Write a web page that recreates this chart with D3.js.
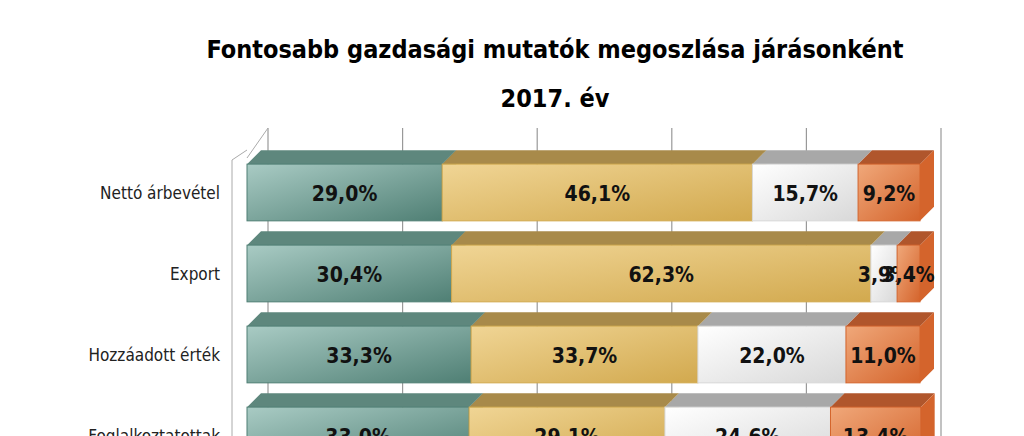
<!DOCTYPE html><html><head><meta charset="utf-8"><script src="https://d3js.org/d3.v7.min.js"></script>
<style>body{margin:0;background:#fff}</style></head><body><svg id="c" width="1024" height="436"></svg><script>
const categories=["Nettó árbevétel","Export","Hozzáadott érték","Foglalkoztatottak"];
const seriesA=[29.0,30.4,33.3,33.0];
const seriesB=[46.1,62.3,33.7,29.1];
const seriesC=[15.7,3.9,22.0,24.6];
const seriesD=[9.2,3.4,11.0,13.4];
const ticks=[0,20,40,60,80,100];
const series=[seriesA,seriesB,seriesC,seriesD];
const cols=[["#a9cbc4","#4f7f74","#5e877d"],["#f0d595","#d2a94e","#a88a4a"],["#ffffff","#d8d8d8","#a8a8a8"],["#f0a87a","#d4642c","#b0562c"]];
const svg=d3.select("#c");
const defs=svg.append("defs");
cols.forEach((c,i)=>{const g=defs.append("linearGradient").attr("id","g"+i).attr("x1",0).attr("y1",0).attr("x2",1).attr("y2",1);
g.append("stop").attr("offset","0").attr("stop-color",c[0]);g.append("stop").attr("offset","1").attr("stop-color",c[1]);});
const x=d3.scaleLinear().domain([0,100]).range([247,920]);
const y=d3.scaleBand().domain(categories).range([152,476]).paddingInner(0.3).paddingOuter(0.15);
const dx=14,dy=-14;
const fnt="'DejaVu Sans Condensed','DejaVu Sans',sans-serif";
svg.append("text").attr("x",555).attr("y",58).attr("text-anchor","middle").attr("font-family",fnt).attr("font-weight","bold").attr("font-size",25).text("Fontosabb gazdasági mutatók megoszlása járásonként");
svg.append("text").attr("x",555).attr("y",107).attr("text-anchor","middle").attr("font-family",fnt).attr("font-weight","bold").attr("font-size",25).text("2017. év");
ticks.forEach(t=>svg.append("line").attr("x1",x(t)+21).attr("x2",x(t)+21).attr("y1",128).attr("y2",436).attr("stroke","#999").attr("stroke-width",1.2));
svg.append("line").attr("x1",x(0)).attr("y1",158).attr("x2",x(0)+21).attr("y2",128).attr("stroke","#aaa");
svg.append("line").attr("x1",232).attr("y1",160).attr("x2",232).attr("y2",436).attr("stroke","#aaa");
svg.append("line").attr("x1",232).attr("y1",160).attr("x2",247).attr("y2",150).attr("stroke","#aaa");
categories.forEach((cat,r)=>{
 let cum=0;const y0=y(cat),h=y.bandwidth();
 svg.append("text").attr("x",220).attr("y",y0+h/2+6).attr("text-anchor","end").attr("font-family",fnt).attr("font-size",17).attr("fill","#222").text(cat);
 series.forEach((s,i)=>{const v=s[r],a=x(cum),b=x(cum+v);cum+=v;const g=svg.append("g");
  g.append("path").attr("d",`M${a},${y0}L${a+dx},${y0+dy}L${b+dx},${y0+dy}L${b},${y0}Z`).attr("fill",cols[i][2]);
  g.append("path").attr("d",`M${b},${y0}L${b+dx},${y0+dy}L${b+dx},${y0+h+dy}L${b},${y0+h}Z`).attr("fill",cols[i][1]);
  g.append("rect").attr("x",a).attr("y",y0).attr("width",b-a).attr("height",h).attr("fill",`url(#g${i})`).attr("stroke",cols[i][1]).attr("stroke-width",1);
  g.append("text").attr("x",(a+b)/2).attr("y",y0+h/2+8).attr("text-anchor","middle").attr("font-family",fnt).attr("font-weight","bold").attr("font-size",21).attr("fill","#111").text(v.toFixed(1).replace(".",",")+"%");
 });
});
</script></body></html>
